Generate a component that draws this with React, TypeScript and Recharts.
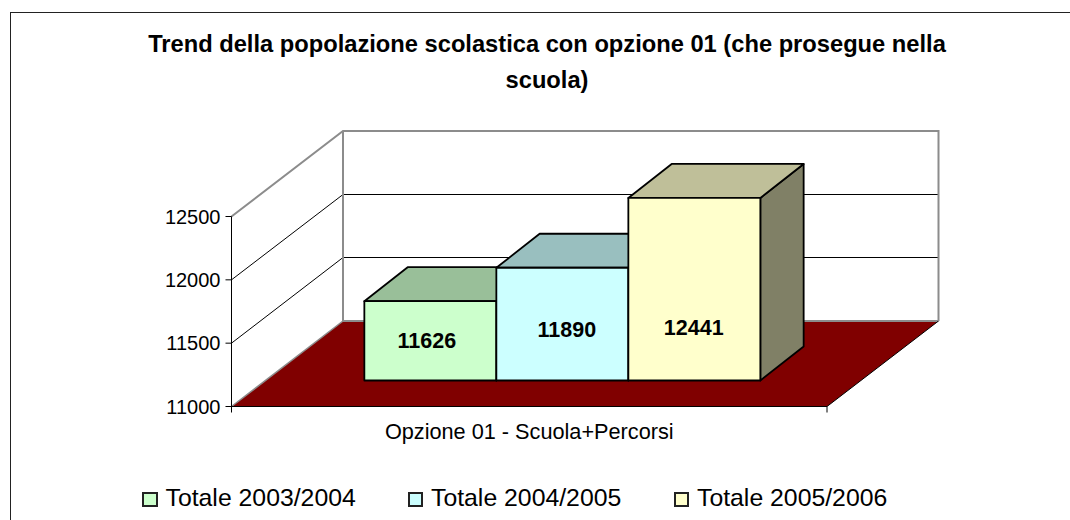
import { BarChart, Bar, XAxis, YAxis, CartesianGrid, Legend, LabelList } from "recharts"

const FONT = '"Liberation Sans", Arial, sans-serif'

const categories = ["Opzione 01 - Scuola+Percorsi"]
const seriesNames = ["Totale 2003/2004", "Totale 2004/2005", "Totale 2005/2006"]
const seriesValues = [11626, 11890, 12441]
const seriesColors = ["#CCFFCC", "#CCFFFF", "#FFFFCC"]
const yTicks = [11000, 11500, 12000, 12500]

const titleLines = [
  "Trend della popolazione scolastica con opzione 01 (che prosegue nella",
  "scuola)"
]

const data = categories.map((name) => {
  const row: any = { name }
  seriesNames.forEach((s, i) => (row[s] = seriesValues[i]))
  return row
})

// 3D look: how far the back wall sits from the front plane
const WALL_DX = 111.5
const WALL_DY = -85.5
// bars stand partway into the floor and have their own depth
const BAR_SHIFT_X = 33.4
const BAR_SHIFT_Y = -26
const BAR_DX = 43.3
const BAR_DY = -34
// data labels do not sit at the face centre in the original
const labelNudge = [
  { x: -3.5, y: 0 },
  { x: 4.5, y: 6 },
  { x: -0.6, y: 38.5 }
]
const legendX = [142, 407.5, 673.5]

const PLOT_TOP = 216.5
const PLOT_BOTTOM = 406.5
const PLOT_HEIGHT = PLOT_BOTTOM - PLOT_TOP
const WALL_GREY = "#8c8c8c"

function shade(hex: string, f: number) {
  const n = parseInt(hex.slice(1), 16)
  const c = [(n >> 16) & 255, (n >> 8) & 255, n & 255].map((v) => Math.round(v * f))
  return `rgb(${c[0]},${c[1]},${c[2]})`
}

// one gridline becomes an L running along the side wall and the back wall
const WallLine = (props: any) => {
  const { x1, x2, y1 } = props
  const y = y1
  const bx1 = x1 + WALL_DX
  const bx2 = x2 + WALL_DX
  const by = Math.floor(y + WALL_DY) + 0.5
  if (Math.abs(y - PLOT_BOTTOM) < 1) {
    const floorY = y + WALL_DY
    return (
      <g>
        <path d={`M${x1},${y}L${bx1},${floorY}L${bx2},${floorY}L${x2},${y}Z`} fill="#800000" />
        <line x1={x1} y1={y} x2={bx1} y2={floorY} stroke={WALL_GREY} strokeWidth={1.5} />
        <line x1={bx1} y1={floorY} x2={bx2} y2={floorY} stroke={WALL_GREY} strokeWidth={2} />
        <line x1={x2} y1={y} x2={bx2} y2={floorY} stroke="#000" strokeWidth={1} />
        <line x1={x1} y1={y} x2={x2} y2={y} stroke="#000" strokeWidth={1} />
        <line x1={x1} y1={y} x2={x1} y2={y + 6} stroke="#000" strokeWidth={1} />
        <line x1={x2} y1={y} x2={x2} y2={y + 6} stroke="#000" strokeWidth={1} />
      </g>
    )
  }
  if (Math.abs(y - PLOT_TOP) < 1) {
    const topY = y + WALL_DY
    return (
      <g fill="none" stroke={WALL_GREY} strokeWidth={2}>
        <path d={`M${x1},${y}L${bx1},${topY}L${bx2},${topY}L${bx2},${topY + PLOT_HEIGHT}`} />
        <line x1={bx1} y1={topY} x2={bx1} y2={topY + PLOT_HEIGHT} />
      </g>
    )
  }
  return (
    <path d={`M${x1},${y}L${bx1},${by}L${bx2},${by}`} fill="none" stroke="#000" strokeWidth={1} />
  )
}

const Box3D = (props: any) => {
  const { x, y, width, height, fill } = props
  const left = x + BAR_SHIFT_X
  const right = left + width
  const top = y + BAR_SHIFT_Y
  const bottom = top + height
  return (
    <g stroke="#000" strokeWidth={1.8} strokeLinejoin="round">
      <path
        d={`M${right},${top}L${right + BAR_DX},${top + BAR_DY}L${right + BAR_DX},${bottom + BAR_DY}L${right},${bottom}Z`}
        fill={shade(fill, 0.5)}
      />
      <path
        d={`M${left},${top}L${left + BAR_DX},${top + BAR_DY}L${right + BAR_DX},${top + BAR_DY}L${right},${top}Z`}
        fill={shade(fill, 0.75)}
      />
      <rect x={left} y={top} width={width} height={height} fill={fill} />
    </g>
  )
}

const barLabel = (seriesIndex: number) => (props: any) => {
  const box = props.viewBox ?? props
  const cx = box.x + box.width / 2 + BAR_SHIFT_X + labelNudge[seriesIndex].x
  const cy = box.y + box.height / 2 + BAR_SHIFT_Y + labelNudge[seriesIndex].y
  return (
    <text
      x={cx}
      y={cy}
      textAnchor="middle"
      dominantBaseline="central"
      fontFamily={FONT}
      fontWeight="bold"
      fontSize={21.5}
      fill="#000"
    >
      {props.value}
    </text>
  )
}

const LegendRow = () => (
  <div style={{ position: "relative", width: 1070, height: 30 }}>
    {seriesNames.map((name, i) => (
      <div key={name} style={{ position: "absolute", left: legendX[i], top: 0, height: 30 }}>
        <span
          style={{
            position: "absolute",
            left: 0,
            top: 7.5,
            width: 11.5,
            height: 11.5,
            background: seriesColors[i],
            border: "2px solid #222"
          }}
        />
        <span
          style={{
            position: "absolute",
            left: 23.5,
            top: 0,
            fontFamily: FONT,
            fontSize: 24.8,
            lineHeight: "28px",
            color: "#000",
            whiteSpace: "nowrap"
          }}
        >
          {name}
        </span>
      </div>
    ))}
  </div>
)

export default function App() {
  return (
    <div
      style={{
        position: "absolute",
        left: 0,
        top: 0,
        width: 1070,
        height: 520,
        overflow: "hidden",
        background: "#fff"
      }}
    >
      <div
        style={{
          position: "absolute",
          left: 10,
          top: 12,
          width: 1200,
          height: 700,
          border: "1.5px solid #222"
        }}
      />
      <BarChart
        width={1070}
        height={520}
        data={data}
        margin={{ left: 171.5, right: 243, top: PLOT_TOP, bottom: 53.5 }}
        barCategoryGap="16.7%"
        barGap={0}
        style={{ position: "absolute", left: 0, top: 0 }}
      >
        <CartesianGrid vertical={false} horizontal={WallLine as any} />
        <XAxis
          dataKey="name"
          height={30}
          axisLine={false}
          tickLine={false}
          tickMargin={11}
          tick={{ fontFamily: FONT, fontSize: 21.7, fill: "#000" }}
        />
        <YAxis
          width={60}
          domain={[11000, 12500]}
          ticks={yTicks}
          tickSize={6}
          tickMargin={5}
          axisLine={{ stroke: "#000" }}
          tickLine={{ stroke: "#000" }}
          tick={{ fontFamily: FONT, fontSize: 20, fill: "#000" }}
        />
        {seriesNames.map((name, i) => (
          <Bar
            key={name}
            dataKey={name}
            fill={seriesColors[i]}
            shape={Box3D}
            isAnimationActive={false}
          >
            <LabelList dataKey={name} content={barLabel(i)} />
          </Bar>
        ))}
        <Legend
          content={LegendRow}
          wrapperStyle={{ position: "absolute", left: 0, top: 484, width: 1070, height: 30 }}
        />
      </BarChart>
      <div
        style={{
          position: "absolute",
          left: 0,
          top: 26,
          width: 1094,
          textAlign: "center",
          fontFamily: FONT,
          fontWeight: "bold",
          fontSize: 23.7,
          lineHeight: "36px",
          color: "#000"
        }}
      >
        {titleLines.map((t) => (
          <div key={t}>{t}</div>
        ))}
      </div>
    </div>
  )
}
